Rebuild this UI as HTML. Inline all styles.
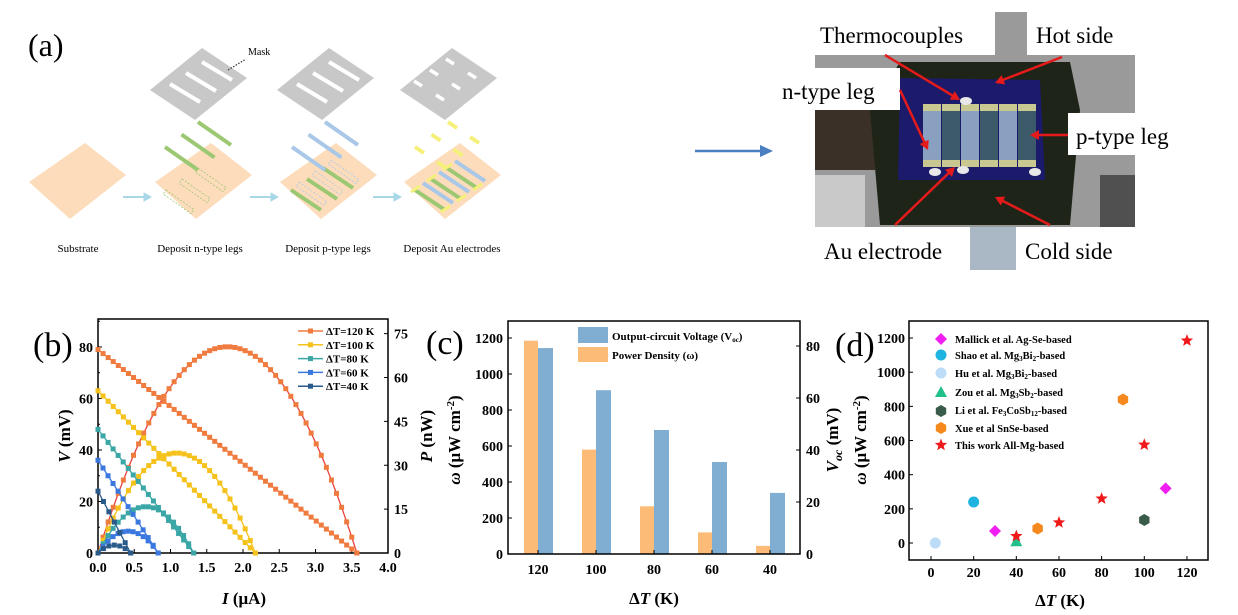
<!DOCTYPE html>
<html><head><meta charset="utf-8"><style>
body{margin:0;background:#fff}
svg{display:block}
text{font-family:"Liberation Serif",serif}
.t{font-weight:bold;font-size:14px}
</style></head><body>
<svg id="s" width="1238" height="615" viewBox="0 0 1238 615" xmlns="http://www.w3.org/2000/svg">
<rect width="1238" height="615" fill="#fff"/>
<!-- Panel a -->
<text x="28" y="56" font-size="32">(a)</text>
<g id="subs"></g>
<text x="248" y="55" font-size="10">Mask</text>
<line x1="228" y1="70" x2="246" y2="59" stroke="#333" stroke-width="1.2" stroke-dasharray="1.5,1.5"/>
<g fill="#a8d8e8" stroke="#a8d8e8">
<line x1="123" y1="197" x2="144" y2="197" stroke-width="2"/><polygon points="144,193 151,197 144,201"/>
<line x1="250" y1="197" x2="271" y2="197" stroke-width="2"/><polygon points="271,193 278,197 271,201"/>
<line x1="373" y1="197" x2="394" y2="197" stroke-width="2"/><polygon points="394,193 401,197 394,201"/>
</g>
<g font-size="11" text-anchor="middle">
<text x="78" y="252">Substrate</text>
<text x="200" y="252">Deposit n-type legs</text>
<text x="328" y="252">Deposit p-type legs</text>
<text x="452" y="252">Deposit Au electrodes</text>
</g>
<line x1="695" y1="151" x2="762" y2="151" stroke="#4a7fc0" stroke-width="2.5"/>
<polygon points="760,145 773,151 760,157" fill="#4a7fc0"/>
<!-- Photo -->
<rect x="815" y="55" width="320" height="172" fill="#9a9a9a"/>
<rect x="815" y="110" width="60" height="60" fill="#3a3028"/>
<rect x="815" y="175" width="50" height="52" fill="#c9c9c9"/>
<rect x="1100" y="175" width="35" height="52" fill="#505050"/>
<polygon points="900,62 1070,62 1080,110 1070,225 880,225 870,110" fill="#1e2418"/>
<polygon points="900,78 1040,80 1045,180 898,180" fill="#1c1a6a"/>
<g id="legs"></g>
<rect x="811" y="12" width="184" height="42" fill="#fff"/>
<rect x="995" y="12" width="32" height="43" fill="#9a9a9a"/>
<rect x="1027" y="12" width="108" height="42" fill="#fff"/>
<rect x="773" y="68" width="127" height="42" fill="#fff"/>
<rect x="1068" y="113" width="125" height="42" fill="#fff"/>
<rect x="815" y="227" width="155" height="43" fill="#fff"/>
<rect x="970" y="227" width="46" height="43" fill="#a9b8c4"/>
<rect x="1016" y="227" width="119" height="43" fill="#fff"/>
<g font-size="23">
<text x="820" y="43">Thermocouples</text>
<text x="1036" y="43">Hot side</text>
<text x="782" y="99">n-type leg</text>
<text x="1076" y="144">p-type leg</text>
<text x="824" y="259">Au electrode</text>
<text x="1025" y="259">Cold side</text>
</g>
<g id="arrows" stroke="#e51a1a" stroke-width="2.5" fill="#e51a1a"></g>

<!-- Panel b -->
<text x="33" y="356" font-size="34">(b)</text>
<rect x="98" y="319" width="290" height="234" fill="none" stroke="#000" stroke-width="1.5"/>
<g id="bplot"></g>
<text transform="translate(70,436) rotate(-90)" text-anchor="middle" class="t" style="font-size:17px"><tspan font-style="italic">V</tspan> (mV)</text>
<text transform="translate(432,436) rotate(-90)" text-anchor="middle" class="t" style="font-size:17px"><tspan font-style="italic">P</tspan> (nW)</text>
<text x="244" y="604" text-anchor="middle" class="t" style="font-size:17px"><tspan font-style="italic">I</tspan> (μA)</text>

<!-- Panel c -->
<text x="426" y="354" font-size="34">(c)</text>
<g id="cplot"></g>
<rect x="508" y="321" width="292" height="233" fill="none" stroke="#000" stroke-width="1.5"/>
<text transform="translate(460,440) rotate(-90)" text-anchor="middle" class="t" style="font-size:17px"><tspan font-style="italic">ω</tspan> (μW cm<tspan dy="-6" font-size="11">-2</tspan><tspan dy="6">)</tspan></text>
<text transform="translate(838,440) rotate(-90)" text-anchor="middle" class="t" style="font-size:17px"><tspan font-style="italic">V</tspan><tspan font-style="italic" font-size="12" dy="4">oc</tspan><tspan dy="-4"> (mV)</tspan></text>
<text x="654" y="604" text-anchor="middle" class="t" style="font-size:17px">Δ<tspan font-style="italic">T</tspan> (K)</text>
<rect x="578" y="327" width="30" height="16" fill="#80aed3"/>
<rect x="578" y="347" width="30" height="15" fill="#fdbb78"/>
<text x="612" y="340" class="t" style="font-size:11px">Output-circuit Voltage (V<tspan font-size="7" dy="2">oc</tspan><tspan dy="-2">)</tspan></text>
<text x="612" y="359" class="t" style="font-size:11px">Power Density (ω)</text>

<!-- Panel d -->
<text x="835" y="356" font-size="34">(d)</text>
<rect x="909" y="321" width="299" height="239" fill="none" stroke="#000" stroke-width="1.5"/>
<g id="dplot"></g>
<text transform="translate(866,440) rotate(-90)" text-anchor="middle" class="t" style="font-size:17px"><tspan font-style="italic">ω</tspan> (μW cm<tspan dy="-6" font-size="11">-2</tspan><tspan dy="6">)</tspan></text>
<text x="1060" y="606" text-anchor="middle" class="t" style="font-size:17px">Δ<tspan font-style="italic">T</tspan> (K)</text>
<g class="t" style="font-size:10.5px">
<text x="955" y="343">Mallick et al. Ag-Se-based</text>
<text x="955" y="359">Shao et al. Mg<tspan font-size="7" dy="2">3</tspan><tspan dy="-2">Bi</tspan><tspan font-size="7" dy="2">2</tspan><tspan dy="-2">-based</tspan></text>
<text x="955" y="377">Hu et al. Mg<tspan font-size="7" dy="2">3</tspan><tspan dy="-2">Bi</tspan><tspan font-size="7" dy="2">2</tspan><tspan dy="-2">-based</tspan></text>
<text x="955" y="396">Zou et al. Mg<tspan font-size="7" dy="2">3</tspan><tspan dy="-2">Sb</tspan><tspan font-size="7" dy="2">2</tspan><tspan dy="-2">-based</tspan></text>
<text x="955" y="414">Li et al.  Fe<tspan font-size="7" dy="2">3</tspan><tspan dy="-2">CoSb</tspan><tspan font-size="7" dy="2">12</tspan><tspan dy="-2">-based</tspan></text>
<text x="955" y="432">Xue et al SnSe-based</text>
<text x="955" y="449">This work All-Mg-based</text>
</g>
</svg>
<script>
const NS="http://www.w3.org/2000/svg";
function el(p,tag,a,txt){const e=document.createElementNS(NS,tag);for(const k in a)e.setAttribute(k,a[k]);if(txt!==undefined)e.textContent=txt;document.getElementById(p).appendChild(e);return e;}
// panel a
function P(pts,dx){return pts.map(p=>(p[0]+dx)+","+p[1]).join(" ");}
const sub=[[29,182],[85,143],[126,175],[70,219]];
const mask=[[150,90],[202,48],[247,78],[195,120]];
const G="#9dc873",B="#a9c8e8",Y="#f5f07a";
[0,126,251,375].forEach((dx,i)=>{
 el("subs","polygon",{points:P(sub,dx),fill:"#fddcbc"});
 if(i==0)return;
 const mdx=[0,0,127,250][i];
 el("subs","polygon",{points:P(mask,mdx),fill:"#c8c8c8"});
 const mx=150+mdx;
 if(i<3){for(let k=0;k<3;k++){const x=mx+12+k*16,y=90-k*11;el("subs","line",{x1:x+8,y1:y-6,x2:x+38,y2:y+12,stroke:"#fff","stroke-width":4});}}
 else{for(let k=0;k<3;k++){const x=mx+14+k*16,y=85-k*11;el("subs","line",{x1:x,y1:y-4,x2:x+8,y2:y+1,stroke:"#fff","stroke-width":3.5});el("subs","line",{x1:x+22,y1:y+10,x2:x+30,y2:y+15,stroke:"#fff","stroke-width":3.5});}}
 // on-substrate stripes
 for(let k=0;k<3;k++){const x=dx+40+k*16,y=190-k*11;
  if(i==1)el("subs","rect",{x:0,y:0,width:34,height:5,fill:"none",stroke:G,"stroke-width":0.8,"stroke-dasharray":"2,1.5",transform:`translate(${x},${y}) rotate(35)`});
  if(i>=2)el("subs","line",{x1:x,y1:y,x2:x+30,y2:y+20,stroke:G,"stroke-width":4});
  if(i==2)el("subs","rect",{x:0,y:0,width:34,height:5,fill:"none",stroke:B,"stroke-width":0.8,"stroke-dasharray":"2,1.5",transform:`translate(${x+8},${y-8}) rotate(35)`});
  if(i==3){el("subs","line",{x1:x+8,y1:y-7,x2:x+38,y2:y+13,stroke:B,"stroke-width":4});
   el("subs","line",{x1:x-4,y1:y+2,x2:x+5,y2:y-4,stroke:Y,"stroke-width":3});el("subs","line",{x1:x+26,y1:y+22,x2:x+35,y2:y+16,stroke:Y,"stroke-width":3});}
 }
 // floating stripes above substrate
 const c=["",G,B,Y][i];
 for(let k=0;k<3;k++){const x=165+mdx+k*16.5,y=147-k*12.5;
  if(i<3)el("subs","line",{x1:x,y1:y,x2:x+33,y2:y+23,stroke:c,"stroke-width":4});
  else{el("subs","line",{x1:x,y1:y,x2:x+9,y2:y+6,stroke:c,"stroke-width":4});el("subs","line",{x1:x+22,y1:y+15,x2:x+31,y2:y+21,stroke:c,"stroke-width":4});}}
});
// photo legs
for(let k=0;k<6;k++){const x=923+k*19;el("legs","rect",{x:x,y:104,width:18,height:63,fill:k%2?"#3d5a6a":"#8aa0c0"});
 el("legs","rect",{x:x,y:104,width:18,height:7,fill:"#c8c890"});el("legs","rect",{x:x,y:160,width:18,height:7,fill:"#c8c890"});}
[[935,172],[963,170],[1035,172],[966,101]].forEach(p=>el("legs","ellipse",{cx:p[0],cy:p[1],rx:6,ry:4,fill:"#e8e8e8"}));
// arrows
[[885,55,960,100],[1062,57,995,83],[900,90,928,150],[1068,135,1030,135],[895,225,955,167],[1050,225,995,197]].forEach(a=>{
 const [x1,y1,x2,y2]=a,ang=Math.atan2(y2-y1,x2-x1),L=9;
 el("arrows","line",{x1,y1,x2:x2-L*Math.cos(ang)*0.8,y2:y2-L*Math.sin(ang)*0.8});
 const p1=[x2-L*Math.cos(ang)+5*Math.sin(ang),y2-L*Math.sin(ang)-5*Math.cos(ang)],p2=[x2-L*Math.cos(ang)-5*Math.sin(ang),y2-L*Math.sin(ang)+5*Math.cos(ang)];
 el("arrows","polygon",{points:`${x2},${y2} ${p1} ${p2}`,stroke:"none"});});
// panel b
const bx=v=>98+v*72.5, byL=v=>553-v*2.575, byR=v=>553-v*2.925;
for(let v=0;v<=80;v+=20){el("bplot","text",{x:93,y:byL(v)+5,"text-anchor":"end",class:"t"},v);el("bplot","line",{x1:98,y1:byL(v),x2:102,y2:byL(v),stroke:"#000"});}
for(let v=10;v<=90;v+=20)el("bplot","line",{x1:98,y1:byL(v),x2:100,y2:byL(v),stroke:"#000"});
for(let v=0;v<=75;v+=15){el("bplot","text",{x:394,y:byR(v)+5,class:"t"},v);el("bplot","line",{x1:384,y1:byR(v),x2:388,y2:byR(v),stroke:"#000"});}
for(let v=0;v<=8;v++){const x=bx(v*0.5);el("bplot","text",{x:x,y:572,"text-anchor":"middle",class:"t"},(v*0.5).toFixed(1));el("bplot","line",{x1:x,y1:553,x2:x,y2:549,stroke:"#000"});}
const ser=[[79,3.57,"#f07b3f","#e8413c"],[63,2.17,"#f5c21b","#f5c21b"],[48,1.32,"#3aa6a6","#3aa6a6"],[36,0.83,"#3a78e0","#3a78e0"],[24,0.45,"#2a5a8a","#2a5a8a"]];
ser.forEach(s=>{const [V0,I0,c,cp]=s;let n=Math.round(I0/0.07);let lp=[],pp=[];
 for(let k=0;k<=n;k++){const I=I0*k/n,V=V0*(1-I/I0),Pw=V*I;lp.push([bx(I),byL(V)]);pp.push([bx(I),byR(Pw)]);}
 el("bplot","polyline",{points:lp.join(" "),fill:"none",stroke:c,"stroke-width":1.3});
 el("bplot","polyline",{points:pp.join(" "),fill:"none",stroke:cp,"stroke-width":1.3});
 lp.concat(pp).forEach(p=>el("bplot","rect",{x:p[0]-2.5,y:p[1]-2.5,width:5,height:5,fill:c}));});
["ΔT=120 K","ΔT=100 K","ΔT=80 K","ΔT=60 K","ΔT=40 K"].forEach((t,i)=>{const y=331+i*13.8;
 el("bplot","line",{x1:298,y1:y,x2:323,y2:y,stroke:ser[i][2],"stroke-width":1.5});el("bplot","rect",{x:308,y:y-2.5,width:5,height:5,fill:ser[i][2]});
 el("bplot","text",{x:326,y:y+4,class:"t",style:"font-size:11px"},t);});
// panel c
const cyL=v=>554-v*0.18, cyR=v=>554-v*2.6;
for(let v=0;v<=1200;v+=200){el("cplot","text",{x:503,y:cyL(v)+5,"text-anchor":"end",class:"t"},v);el("cplot","line",{x1:508,y1:cyL(v),x2:512,y2:cyL(v),stroke:"#000"});}
for(let v=0;v<=80;v+=20){el("cplot","text",{x:806,y:cyR(v)+5,class:"t"},v);el("cplot","line",{x1:796,y1:cyR(v),x2:800,y2:cyR(v),stroke:"#000"});}
const cats=[120,100,80,60,40],orv=[1185,580,265,120,45],blv=[79.2,63,47.7,35.4,23.5];
cats.forEach((c,i)=>{const x=538+i*58;el("cplot","rect",{x:x-14,y:cyL(orv[i]),width:14,height:554-cyL(orv[i]),fill:"#fdbb78"});
 el("cplot","rect",{x:x,y:cyR(blv[i]),width:15,height:554-cyR(blv[i]),fill:"#80aed3"});
 el("cplot","text",{x:x,y:574,"text-anchor":"middle",class:"t"},c);el("cplot","line",{x1:x,y1:554,x2:x,y2:550,stroke:"#000"});});
// panel d
const dx=v=>931+v*2.133, dy=v=>543-v*0.1708;
for(let v=0;v<=1200;v+=200){el("dplot","text",{x:905,y:dy(v)+5,"text-anchor":"end",class:"t"},v);el("dplot","line",{x1:909,y1:dy(v),x2:913,y2:dy(v),stroke:"#000"});}
for(let v=0;v<=120;v+=20){el("dplot","text",{x:dx(v),y:577,"text-anchor":"middle",class:"t"},v);el("dplot","line",{x1:dx(v),y1:560,x2:dx(v),y2:556,stroke:"#000"});}
function mk(type,x,y,c){const r=6;
 if(type=="d")el("dplot","polygon",{points:`${x},${y-r} ${x+r},${y} ${x},${y+r} ${x-r},${y}`,fill:c});
 else if(type=="c")el("dplot","circle",{cx:x,cy:y,r:5.5,fill:c});
 else if(type=="t")el("dplot","polygon",{points:`${x},${y-6} ${x+6},${y+5} ${x-6},${y+5}`,fill:c});
 else if(type=="h"){let p=[];for(let k=0;k<6;k++){const a=Math.PI/3*k+Math.PI/6;p.push([x+6*Math.cos(a),y+6*Math.sin(a)]);}el("dplot","polygon",{points:p.join(" "),fill:c});}
 else{let p=[];for(let k=0;k<10;k++){const a=-Math.PI/2+Math.PI/5*k,rr=k%2?2.8:6.5;p.push([x+rr*Math.cos(a),y+rr*Math.sin(a)]);}el("dplot","polygon",{points:p.join(" "),fill:c});}}
const L=[["d","#f01ef0"],["c","#1fb4e0"],["c","#bcdcf8"],["t","#22c08a"],["h","#3a5a4a"],["h","#f5891e"],["s","#f01818"]];
const ly=[339,355,373,392,411,428,445];
L.forEach((m,i)=>mk(m[0],941,ly[i],m[1]));
const pts=[[0,30,70],[0,110,320],[1,20,240],[2,2,0],[3,40,10],[4,100,135],[5,50,85],[5,90,840],[6,40,40],[6,60,120],[6,80,260],[6,100,575],[6,120,1185]];
pts.forEach(p=>mk(L[p[0]][0],dx(p[1]),dy(p[2]),L[p[0]][1]));
</script>
</body></html>
